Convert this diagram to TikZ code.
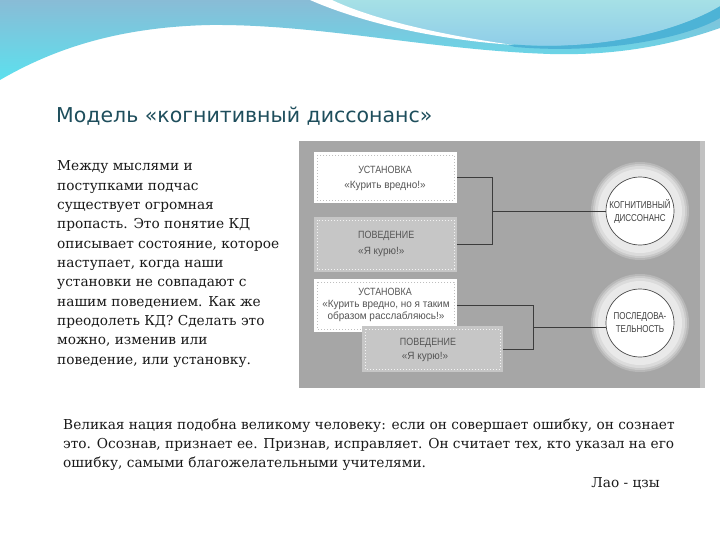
\documentclass[tikz,border=0pt]{standalone}
\usepackage{fontspec}
\setmainfont{DejaVu Serif}
\newfontfamily\titlefont{DejaVu Sans}
\newfontfamily\boxfont[FakeStretch=0.8]{Liberation Sans}
\newfontfamily\boxcaps[FakeStretch=0.85]{Liberation Sans}
\newfontfamily\boxwide[FakeStretch=0.95]{Liberation Sans}
\definecolor{bandtop}{RGB}{137,188,214}
\definecolor{bandbot}{RGB}{92,224,238}
\definecolor{bubtop}{RGB}{166,224,230}
\definecolor{bubbot}{RGB}{140,203,233}
\definecolor{bubline}{RGB}{77,179,214}
\definecolor{titlec}{RGB}{30,78,92}
\definecolor{panelg}{RGB}{166,166,166}
\definecolor{boxg}{RGB}{198,198,198}
\definecolor{boxtext}{RGB}{85,85,85}
\definecolor{conn}{RGB}{60,60,60}
\begin{document}
\begin{tikzpicture}[x=1pt,y=-1pt,
  bodyline/.style={anchor=base west,inner sep=0,font=\fontsize{13.7}{16}\selectfont,text=black!90},
  boxlab/.style={inner sep=0,font=\boxcaps\fontsize{10.5}{12}\selectfont,text=boxtext},
  boxlow/.style={inner sep=0,font=\boxwide\fontsize{10.5}{12}\selectfont,text=boxtext},
  whitebox/.style={fill=white,minimum width=143,minimum height=51,inner sep=0},
  graybox/.style={fill=boxg,minimum width=143,minimum height=55,inner sep=0},
  ticks/.style={draw=black!25,dash pattern=on 1pt off 2pt,line width=0.6pt},
  lticks/.style={draw=white!80!boxg,dash pattern=on 1pt off 2pt,line width=0.6pt},
  connline/.style={draw=conn,line width=0.9pt},
  circ/.style={circle,draw=black!70,line width=0.7pt,fill=white,minimum size=68,inner sep=0,align=center,font=\boxfont\fontsize{10}{13}\selectfont,text=black!75}
]
\useasboundingbox (0,0) rectangle (720,540);
\fill[white] (0,0) rectangle (720,540);
% top band
\shade[top color=bandtop,bottom color=bandbot]
  (0,0) -- (0,80) .. controls (55,48) and (120,27) .. (210,25)
  .. controls (320,24) and (430,50) .. (550,54)
  .. controls (625,56) and (680,42) .. (720,28) -- (720,0) -- cycle;
\fill[bubline]
  (505,44) .. controls (600,52) and (680,30) .. (720,6) -- (720,18)
  .. controls (690,36) and (610,55) .. (515,47) -- cycle;
\shade[top color=bubtop,bottom color=bubbot]
  (318,0) .. controls (370,22) and (440,38) .. (512,44)
  .. controls (600,52) and (680,30) .. (720,6) -- (720,0) -- cycle;
\fill[white]
  (310,0) .. controls (365,24) and (440,40) .. (514,45)
  .. controls (440,35) and (372,19) .. (332,0) -- cycle;
% title
\node[anchor=base west,inner sep=0,font=\titlefont\fontsize{20.5}{24}\selectfont,text=titlec] (title) at (56,123) {Модель «когнитивный диссонанс»};
% left text
\node[bodyline] (l1) at (57,171) {Между мыслями и};
\node[bodyline] (l2) at (57,190.3) {поступками подчас};
\node[bodyline] (l3) at (57,209.6) {существует огромная};
\node[bodyline] (l4) at (57,228.9) {пропасть. Это понятие КД};
\node[bodyline] (l5) at (57,248.2) {описывает состояние, которое};
\node[bodyline] (l6) at (57,267.5) {наступает, когда наши};
\node[bodyline] (l7) at (57,286.8) {установки не совпадают с};
\node[bodyline] (l8) at (57,306.1) {нашим поведением. Как же};
\node[bodyline] (l9) at (57,325.4) {преодолеть КД? Сделать это};
\node[bodyline] (l10) at (57,344.7) {можно, изменив или};
\node[bodyline] (l11) at (57,364) {поведение, или установку.};
% panel
\node[fill=panelg,minimum width=406,minimum height=247,inner sep=0] (panel) at (502,264.5) {};
\fill[white!30!panelg] (700,141) rectangle (705,388);
% boxes
\node[whitebox] (b1) at (385.5,177.5) {};
\draw[ticks] (317,155) rectangle (454,200);
\node[graybox] (b2) at (385.5,244.5) {};
\draw[lticks] (317,220) rectangle (454,269);
\node[whitebox,minimum height=53] (b3) at (385.5,305.5) {};
\draw[ticks] (317,282) rectangle (454,329);
\node[graybox,minimum width=141,minimum height=46] (b4) at (432.5,349) {};
\draw[lticks] (365,329) rectangle (500,369);
% box labels
\node[boxlab] (t1a) at (385,170) {УСТАНОВКА};
\node[boxlow] (t1b) at (385,186) {«Курить вредно!»};
\node[boxlab,anchor=west] (t2a) at (358,236) {ПОВЕДЕНИЕ};
\node[boxlow,anchor=west] (t2b) at (358,252) {«Я курю!»};
\node[boxlab] (t3a) at (385,292) {УСТАНОВКА};
\node[boxlow] (t3b) at (386,305) {«Курить вредно, но я таким};
\node[boxlow] (t3c) at (386,317) {образом расслабляюсь!»};
\node[boxlab] (t4a) at (428,343) {ПОВЕДЕНИЕ};
\node[boxlow] (t4b) at (425,357) {«Я курю!»};
% circles with glow
\foreach \cy in {211,323}{
  \fill[white!20!panelg] (640,\cy) circle (49);
  \fill[white!40!panelg] (640,\cy) circle (47);
  \fill[white!60!panelg] (640,\cy) circle (45);
  \fill[white!75!panelg] (640,\cy) circle (42);
}
\node[circ] (c1) at (640,211) {КОГНИТИВНЫЙ\\ДИССОНАНС};
\node[circ] (c2) at (640,323) {ПОСЛЕДОВА-\\ТЕЛЬНОСТЬ};
% connectors
\coordinate (k1) at (492,211);
\coordinate (k2) at (533,327);
\draw[connline] (b1.east) -- (b1.east -| k1) -- (b2.east -| k1) -- (b2.east);
\draw[connline] (k1) -- (c1);
\draw[connline] (b3.east) -- (b3.east -| k2) -- (b4.east -| k2) -- (b4.east);
\draw[connline] (k2) -- (k2 -| c2.west);
% quote
\node[bodyline] (q1) at (63,429.3) {Великая нация подобна великому человеку: если он совершает ошибку, он сознает};
\node[bodyline] (q2) at (63,448.5) {это. Осознав, признает ее. Признав, исправляет. Он считает тех, кто указал на его};
\node[bodyline] (q3) at (63,467.8) {ошибку, самыми благожелательными учителями.};
\node[bodyline,anchor=base east] (q4) at (660,487) {Лао - цзы};
\end{tikzpicture}
\end{document}
